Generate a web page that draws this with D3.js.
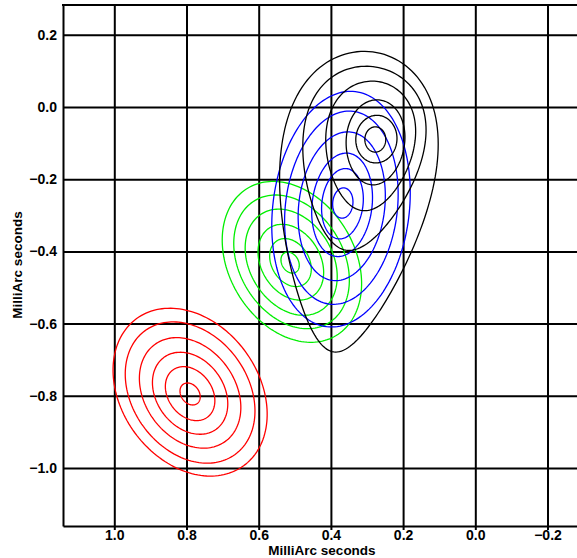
<!DOCTYPE html>
<html>
<head>
<meta charset="utf-8">
<script src="https://cdn.jsdelivr.net/npm/d3@7"></script>
<style>
  body { margin: 0; background: #fff; }
  text { font-family: "Liberation Sans", Arial, sans-serif; font-weight: bold; }
</style>
</head>
<body>
<div id="contenedor"></div>
<script>
// tick values
xTicks = [1.0, 0.8, 0.6, 0.4, 0.2, 0.0, -0.2]
yTicks = [0.2, 0.0, -0.2, -0.4, -0.6, -0.8, -1.0]

// contour rings, one row per ring:
// [centre x, centre y, semi-major, semi-minor, tilt (deg), egg]
redRings = [
    [0.790, -0.790, 0.252, 0.190, 54, 0],
    [0.790, -0.791, 0.212, 0.160, 54, 0],
    [0.790, -0.792, 0.166, 0.125, 54, 0],
    [0.790, -0.793, 0.123, 0.093, 54, 0],
    [0.790, -0.794, 0.081, 0.061, 54, 0],
    [0.790, -0.795, 0.033, 0.025, 54, 0]
]
greenRings = [
    [0.508, -0.429, 0.238, 0.174, 59, 0],
    [0.509, -0.429, 0.198, 0.144, 59, 0],
    [0.510, -0.430, 0.157, 0.115, 59, 0],
    [0.511, -0.430, 0.112, 0.082, 59, 0],
    [0.512, -0.431, 0.071, 0.052, 59, 0],
    [0.513, -0.431, 0.031, 0.023, 59, 0]
]
blueRings = [
    [0.372, -0.283, 0.328, 0.189, 97, 0],
    [0.371, -0.279, 0.269, 0.155, 97, 0],
    [0.370, -0.275, 0.207, 0.119, 97, 0],
    [0.369, -0.271, 0.144, 0.083, 97, 0],
    [0.368, -0.268, 0.098, 0.057, 97, 0],
    [0.367, -0.266, 0.042, 0.028, 95, 0]
]
blackRings = [
    [0.338, -0.263, 0.419, 0.205, 97.4, 0.36],
    [0.317, -0.143, 0.257, 0.163, 99.3, 0.28],
    [0.293, -0.108, 0.180, 0.122, 96.2, 0.18],
    [0.277, -0.098, 0.118, 0.081, 95, 0.06],
    [0.274, -0.089, 0.066, 0.057, 95, 0],
    [0.277, -0.090, 0.035, 0.029, 90, 0]
]

fuentes = [
    {rings: redRings, colour: "#ff0000"},
    {rings: greenRings, colour: "#00ee00"},
    {rings: blueRings, colour: "#0000ff"},
    {rings: blackRings, colour: "#000000"}
]

ancho = 577
alto = 558
izq = 63
arriba = 5
abajo = 526

escalaX = d3.scaleLinear()
    .domain([1.1421, -0.2817])
    .range([izq, ancho])

escalaY = d3.scaleLinear()
    .domain([0.2825, -1.1607])
    .range([arriba, abajo])

contenedor = d3.select("#contenedor")
    .append("svg")
    .attr("width", ancho)
    .attr("height", alto)

// grid + axes
ejeX = d3.axisBottom(escalaX)
    .tickValues(xTicks)
    .tickFormat(d3.format(".1f"))
    .tickSizeInner(-(abajo - arriba))
    .tickSizeOuter(0)
    .tickPadding(4)

ejeY = d3.axisLeft(escalaY)
    .tickValues(yTicks)
    .tickFormat(d3.format(".1f"))
    .tickSizeInner(-(ancho - izq))
    .tickSizeOuter(0)
    .tickPadding(6)

gx = contenedor.append("g")
    .attr("transform", "translate(0," + abajo + ")")
    .call(ejeX)
gx.selectAll(".tick line").attr("y1", 4)

gy = contenedor.append("g")
    .attr("transform", "translate(" + izq + ",0)")
    .call(ejeY)

contenedor.selectAll(".tick line, .domain")
    .attr("stroke", "#000")
    .attr("stroke-width", 2)
contenedor.selectAll(".tick text")
    .attr("font-size", 14)
    .attr("fill", "#000")

contenedor.append("line")
    .attr("x1", izq - 1).attr("x2", ancho)
    .attr("y1", arriba).attr("y2", arriba)
    .attr("stroke", "#000")
    .attr("stroke-width", 2)

// ring outline in data space, mapped through the scales
function anillo(r) {
    var cx = r[0], cy = r[1], a = r[2], b = r[3], ang = r[4] * Math.PI / 180, k = r[5]
    var ux = Math.cos(ang), uy = Math.sin(ang)
    var vx = -uy, vy = ux
    var pts = []
    for (var i = 0; i < 160; i++) {
        var t = i / 160 * 2 * Math.PI
        var u = a * Math.cos(t)
        var v = b * Math.sin(t) * (1 + k * Math.cos(t))
        pts.push([cx + u * ux + v * vx, cy + u * uy + v * vy])
    }
    return pts
}

linea = d3.line()
    .x(function(d) {return escalaX(d[0])})
    .y(function(d) {return escalaY(d[1])})
    .curve(d3.curveLinearClosed)

fuentes.forEach(function(f) {
    contenedor.append("g")
        .selectAll("path")
        .data(f.rings)
        .enter()
        .append("path")
        .attr("d", function(d) {return linea(anillo(d))})
        .attr("fill", "none")
        .attr("stroke", f.colour)
        .attr("stroke-width", 1.3)
})

// axis titles
contenedor.append("text")
    .attr("x", 322)
    .attr("y", 555)
    .attr("text-anchor", "middle")
    .attr("font-size", 13.5)
    .text("MilliArc seconds")

contenedor.append("text")
    .attr("transform", "translate(22,265) rotate(-90)")
    .attr("text-anchor", "middle")
    .attr("font-size", 13.5)
    .text("MilliArc seconds")
</script>
</body>
</html>
